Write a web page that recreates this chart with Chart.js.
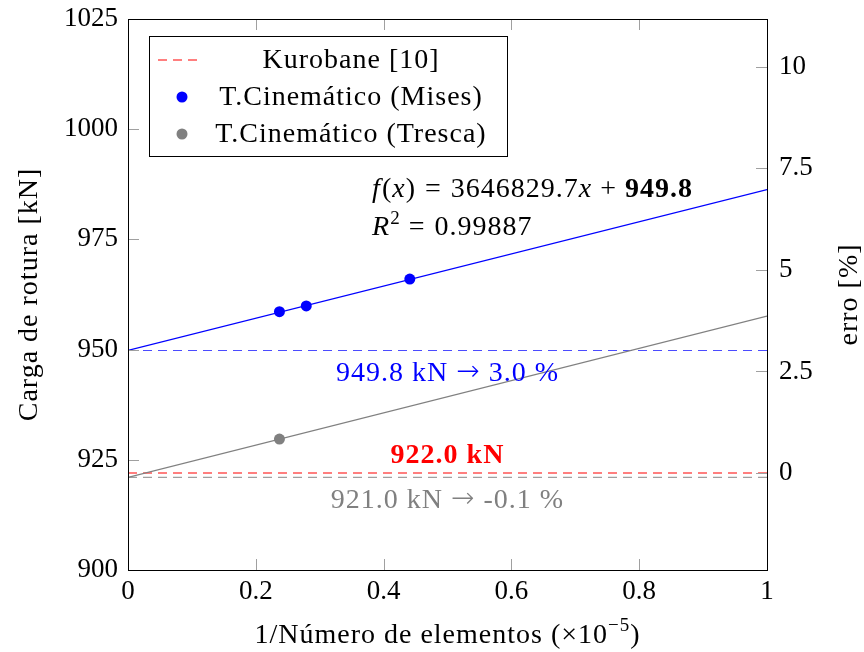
<!DOCTYPE html>
<html>
<head>
<meta charset="utf-8">
<script src="https://cdn.jsdelivr.net/npm/chart.js@4.4.1/dist/chart.umd.min.js"></script>
<style>
  html, body { margin: 0; padding: 0; background: #fff; }
</style>
</head>
<body>
<canvas id="chart" width="864" height="652"></canvas>
<script>
// values
const misesX = [0.237, 0.279, 0.441];
const misesY = [958.6, 959.9, 966.0];
const trescaX = [0.237];
const trescaY = [929.7];
const lineX = [0, 1];
const misesFitY = [949.8, 986.3];
const trescaFitY = [921.0, 957.6];
const misesLimitY = [949.8, 949.8];
const kurobaneY = [922.0, 922.0];
const trescaLimitY = [921.0, 921.0];
const xTicks = [0, 0.2, 0.4, 0.6, 0.8, 1];
const yTicks = [900, 925, 950, 975, 1000, 1025];
const erroTicks = [0, 2.5, 5, 7.5, 10];
const kurobaneRef = 922.0;
const yMin = 900, yMax = 1025;

const serif = '"Liberation Serif", "Times New Roman", serif';
const F = {
  n: '28px ' + serif,
  i: 'italic 28px ' + serif,
  b: 'bold 28px ' + serif,
  sup: '19px ' + serif,
  arrow: '200 28px "DejaVu Sans", sans-serif'
};
const BLUE = '#0000ff', RED = '#ff0000', GRAY = '#808080';

const pts = (xs, ys) => xs.map((x, i) => ({ x: x, y: ys[i] }));

function drawRuns(ctx, runs, x, y, align) {
  let w = 0;
  runs.forEach(r => { ctx.font = r.f; r.w = ctx.measureText(r.t).width + (r.pad || 0); w += r.w; });
  let cx = align === 'center' ? x - w / 2 : x;
  runs.forEach(r => { ctx.font = r.f; ctx.fillText(r.t, cx, y - (r.dy || 0)); cx += r.w; });
}

function arrowLabel(value, pct) {
  return [
    { t: value + ' kN ', f: F.n },
    { t: '\u2192', f: F.arrow, dy: 1 },
    { t: ' ' + pct + ' %', f: F.n }
  ];
}

const fixSize = (w, h) => (scale) => {
  if (w) scale.width = w;
  if (h) scale.height = h;
  scale.paddingTop = 0;
  scale.paddingBottom = 0;
  scale.paddingLeft = 0;
  scale.paddingRight = 0;
};

const decorations = {
  id: 'decorations',
  afterDatasetsDraw(chart) {
    const { ctx, chartArea: a, scales } = chart;
    const x = scales.x, y = scales.y, y2 = scales.y2;
    ctx.save();
    ctx.letterSpacing = '1px';
    ctx.textAlign = 'left';
    ctx.textBaseline = 'alphabetic';

    // inward tick marks
    ctx.strokeStyle = '#a0a0a0';
    ctx.lineWidth = 1;
    ctx.beginPath();
    x.ticks.forEach(t => {
      const px = Math.round(x.getPixelForValue(t.value)) + 0.5;
      ctx.moveTo(px, a.bottom); ctx.lineTo(px, a.bottom - 11);
      ctx.moveTo(px, a.top); ctx.lineTo(px, a.top + 11);
    });
    y.ticks.forEach(t => {
      const py = Math.round(y.getPixelForValue(t.value)) + 0.5;
      ctx.moveTo(a.left, py); ctx.lineTo(a.left + 11, py);
    });
    y2.ticks.forEach(t => {
      const py = Math.round(y2.getPixelForValue(t.value)) + 0.5;
      ctx.moveTo(a.right, py); ctx.lineTo(a.right - 11, py);
    });
    ctx.stroke();

    // frame
    ctx.strokeStyle = '#000';
    ctx.strokeRect(Math.round(a.left) + 0.5, Math.round(a.top) + 0.5,
      Math.round(a.right - a.left), Math.round(a.bottom - a.top));

    // fit annotation
    ctx.fillStyle = '#000';
    const ax = x.getPixelForValue(0.382);
    drawRuns(ctx, [
      { t: 'f', f: F.i, pad: 1 }, { t: '(', f: F.n }, { t: 'x', f: F.i },
      { t: ')', f: F.n, pad: 9 }, { t: '=', f: F.n, pad: 9 }, { t: '3646829.7', f: F.n },
      { t: 'x', f: F.i, pad: 8 }, { t: '+', f: F.n, pad: 8 }, { t: '949.8', f: F.b }
    ], ax, y.getPixelForValue(984.6), 'left');
    drawRuns(ctx, [
      { t: 'R', f: F.i }, { t: '2', f: F.sup, dy: 11, pad: 8 }, { t: '=', f: F.n, pad: 9 },
      { t: '0.99887', f: F.n }
    ], ax, y.getPixelForValue(976.0), 'left');

    const cx = x.getPixelForValue(0.5);
    ctx.fillStyle = BLUE;
    drawRuns(ctx, arrowLabel('949.8', '3.0'), cx, y.getPixelForValue(949.8) + 31, 'center');
    ctx.fillStyle = RED;
    drawRuns(ctx, [{ t: '922.0 kN', f: F.b }], cx, y.getPixelForValue(922.0) - 10, 'center');
    ctx.fillStyle = GRAY;
    drawRuns(ctx, arrowLabel('921.0', '-0.1'), cx, y.getPixelForValue(921.0) + 31, 'center');

    // legend
    const lx = a.left + 21, ly = a.top + 17, lw = 358, lh = 120;
    ctx.fillStyle = '#fff';
    ctx.fillRect(lx, ly, lw, lh);
    ctx.strokeStyle = '#000';
    ctx.strokeRect(lx + 0.5, ly + 0.5, lw, lh);
    const items = chart.data.datasets.filter(d => d.legendRow !== undefined)
      .sort((p, q) => p.legendRow - q.legendRow);
    items.forEach((d, i) => {
      const base = ly + 32 + i * 37;
      const mid = base - 8;
      if (d.showLine) {
        ctx.strokeStyle = d.borderColor;
        ctx.lineWidth = d.borderWidth;
        ctx.setLineDash(d.borderDash || []);
        ctx.beginPath();
        ctx.moveTo(lx + 9, mid); ctx.lineTo(lx + 49, mid);
        ctx.stroke();
        ctx.setLineDash([]);
      } else {
        ctx.fillStyle = d.backgroundColor;
        ctx.beginPath();
        ctx.arc(lx + 33, mid, d.pointRadius, 0, Math.PI * 2);
        ctx.fill();
      }
      ctx.fillStyle = '#000';
      drawRuns(ctx, [{ t: d.label, f: F.n }], lx + 202, base, 'center');
    });

    // axis titles
    ctx.fillStyle = '#000';
    drawRuns(ctx, [
      { t: '1/N\u00famero de elementos (\u00d710', f: F.n },
      { t: '\u22125', f: F.sup, dy: 12 }, { t: ')', f: F.n }
    ], (a.left + a.right) / 2, 643, 'center');

    ctx.save();
    ctx.translate(37, (a.top + a.bottom) / 2);
    ctx.rotate(-Math.PI / 2);
    drawRuns(ctx, [{ t: 'Carga de rotura [kN]', f: F.n }], 0, 0, 'center');
    ctx.restore();

    ctx.save();
    ctx.translate(857, (a.top + a.bottom) / 2);
    ctx.rotate(-Math.PI / 2);
    drawRuns(ctx, [{ t: 'erro [%]', f: F.n }], 0, 0, 'center');
    ctx.restore();

    ctx.restore();
  }
};

const tickFont = { family: serif, size: 27 };

new Chart(document.getElementById('chart'), {
  type: 'scatter',
  data: {
    datasets: [
      { label: 'T.Cinemático (Mises)', legendRow: 1, data: pts(misesX, misesY),
        backgroundColor: BLUE, borderWidth: 0, pointRadius: 5.5, order: 1 },
      { label: 'T.Cinemático (Tresca)', legendRow: 2, data: pts(trescaX, trescaY),
        backgroundColor: GRAY, borderWidth: 0, pointRadius: 5.5, order: 1 },
      { label: 'Ajuste Mises', data: pts(lineX, misesFitY), showLine: true,
        borderColor: BLUE, borderWidth: 1.2, pointRadius: 0, order: 2 },
      { label: 'Ajuste Tresca', data: pts(lineX, trescaFitY), showLine: true,
        borderColor: GRAY, borderWidth: 1.2, pointRadius: 0, order: 2 },
      { label: 'Kurobane [10]', legendRow: 0, data: pts(lineX, kurobaneY), showLine: true,
        borderColor: RED, borderWidth: 1.2, borderDash: [9, 6], pointRadius: 0, order: 3 },
      { label: 'Limite Mises', data: pts(lineX, misesLimitY), showLine: true,
        borderColor: 'rgba(30,30,255,0.8)', borderWidth: 1.2, borderDash: [9, 6], pointRadius: 0, order: 3 },
      { label: 'Limite Tresca', data: pts(lineX, trescaLimitY), showLine: true,
        borderColor: '#a0a0a0', borderWidth: 1.2, borderDash: [9, 6], pointRadius: 0, order: 4 }
    ]
  },
  options: {
    responsive: false,
    animation: false,
    layout: { padding: { top: 19, left: 0, right: 0, bottom: 0 } },
    plugins: { legend: { display: false }, tooltip: { enabled: false } },
    scales: {
      x: {
        type: 'linear', position: 'bottom', min: 0, max: 1,
        grid: { display: false, drawTicks: false }, border: { display: false },
        afterBuildTicks: s => { s.ticks = xTicks.map(v => ({ value: v })); },
        afterFit: fixSize(0, 82),
        ticks: { font: tickFont, color: '#000', padding: 6, maxRotation: 0,
          callback: v => String(v) }
      },
      y: {
        type: 'linear', position: 'left', min: yMin, max: yMax,
        grid: { display: false, drawTicks: false }, border: { display: false },
        afterBuildTicks: s => { s.ticks = yTicks.map(v => ({ value: v })); },
        afterFit: fixSize(128, 0),
        ticks: { font: tickFont, color: '#000', padding: 10, callback: v => String(v) }
      },
      y2: {
        type: 'linear', position: 'right',
        min: (yMin / kurobaneRef - 1) * 100, max: (yMax / kurobaneRef - 1) * 100,
        grid: { display: false, drawTicks: false }, border: { display: false },
        afterBuildTicks: s => { s.ticks = erroTicks.map(v => ({ value: v })); },
        afterFit: fixSize(97, 0),
        ticks: { font: tickFont, color: '#000', padding: 12, callback: v => String(v) }
      }
    }
  },
  plugins: [decorations]
});
</script>
</body>
</html>
